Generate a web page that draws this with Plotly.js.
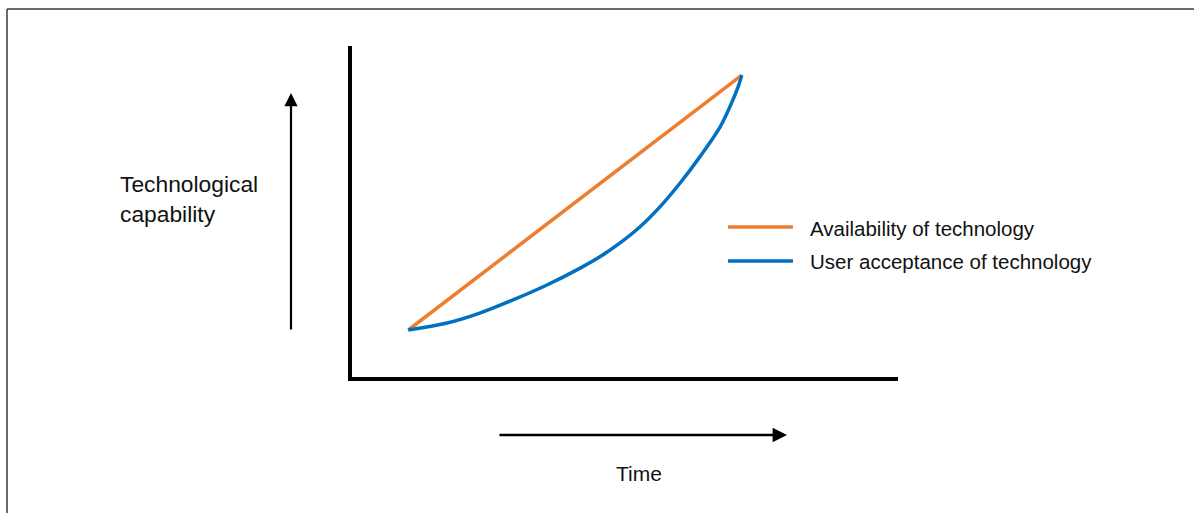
<!DOCTYPE html>
<html>
<head>
<meta charset="utf-8">
<script src="https://cdn.plot.ly/plotly-3.0.1.min.js"></script>
<style>
html,body{margin:0;padding:0;background:#fff;}
#chart{width:1194px;height:513px;}
</style>
</head>
<body>
<div id="chart"></div>
<script>
// ---- data ----
var seriesNames = ["Availability of technology", "User acceptance of technology"];
var availabilityX = [1.03, 7.14];
var availabilityY = [1.42, 9.12];
var acceptanceX = [1.03, 1.74, 2.34, 2.95, 3.57, 4.18, 4.54, 4.91, 5.27, 5.64, 6.01, 6.37, 6.74, 6.92, 7.07, 7.14];
var acceptanceY = [1.42, 1.63, 1.93, 2.33, 2.78, 3.29, 3.63, 4.05, 4.53, 5.14, 5.86, 6.65, 7.55, 8.16, 8.76, 9.12];
var xAxisLabel = "Time";
var yAxisLabel = "Technological<br>capability";
var seriesColors = ["#ED7D31", "#0070C0"];

// ---- layout helpers ----
var W = 1194, H = 513;
var M = {l: 352, r: 296, t: 46, b: 136};
var PW = W - M.l - M.r, PH = H - M.t - M.b;
function px(x){ return (x - M.l) / PW; }
function py(y){ return (H - M.b - y) / PH; }

var FONT = "'Liberation Sans', Arial, sans-serif";
var TXT = "#111";

var traces = [
  {x: availabilityX, y: availabilityY, name: seriesNames[0], mode: "lines",
   line: {color: seriesColors[0], width: 3.5}, hoverinfo: "skip"},
  {x: acceptanceX, y: acceptanceY, name: seriesNames[1], mode: "lines",
   line: {color: seriesColors[1], width: 3.5, shape: "spline", smoothing: 1}, hoverinfo: "skip"}
];

var shapes = [
  // figure border (top and left)
  {type: "line", xref: "paper", yref: "paper", x0: px(7), x1: px(1194), y0: py(9), y1: py(9),
   line: {color: "#3a3a3a", width: 1.5}},
  {type: "line", xref: "paper", yref: "paper", x0: px(7), x1: px(7), y0: py(9), y1: py(513),
   line: {color: "#3a3a3a", width: 1.5}},
  // legend samples
  {type: "line", xref: "paper", yref: "paper", x0: px(728), x1: px(793), y0: py(227), y1: py(227),
   line: {color: seriesColors[0], width: 3.5}},
  {type: "line", xref: "paper", yref: "paper", x0: px(728), x1: px(793), y0: py(261), y1: py(261),
   line: {color: seriesColors[1], width: 3.5}}
];

var annotations = [
  {xref: "paper", yref: "paper", x: px(118), y: py(199), xanchor: "left", yanchor: "middle",
   align: "left", showarrow: false, text: yAxisLabel, font: {family: FONT, size: 22.8, color: TXT}},
  {xref: "paper", yref: "paper", x: px(639), y: py(473), xanchor: "center", yanchor: "middle",
   showarrow: false, text: xAxisLabel, font: {family: FONT, size: 21, color: TXT}},
  {xref: "paper", yref: "paper", x: px(808), y: py(228), xanchor: "left", yanchor: "middle",
   showarrow: false, text: seriesNames[0], font: {family: FONT, size: 20.5, color: TXT}},
  {xref: "paper", yref: "paper", x: px(808), y: py(261), xanchor: "left", yanchor: "middle",
   showarrow: false, text: seriesNames[1], font: {family: FONT, size: 20.5, color: TXT}},
  // arrows
  {xref: "paper", yref: "paper", x: px(291), y: py(93), ax: 0, ay: 238, text: "",
   showarrow: true, arrowhead: 2, arrowsize: 1.2, arrowwidth: 2.2, arrowcolor: "#000", standoff: 0},
  {xref: "paper", yref: "paper", x: px(787), y: py(435), ax: -289, ay: 0, text: "",
   showarrow: true, arrowhead: 2, arrowsize: 1.2, arrowwidth: 2.4, arrowcolor: "#000", standoff: 0}
];

var layout = {
  width: W, height: H,
  margin: M,
  paper_bgcolor: "#fff", plot_bgcolor: "#fff",
  showlegend: false,
  xaxis: {range: [0, 10], showline: true, linecolor: "#000", linewidth: 4,
          showgrid: false, zeroline: false, showticklabels: false, ticks: ""},
  yaxis: {range: [0, 10], showline: true, linecolor: "#000", linewidth: 4,
          showgrid: false, zeroline: false, showticklabels: false, ticks: ""},
  shapes: shapes,
  annotations: annotations
};

Plotly.newPlot("chart", traces, layout, {staticPlot: true, displayModeBar: false});
</script>
</body>
</html>
